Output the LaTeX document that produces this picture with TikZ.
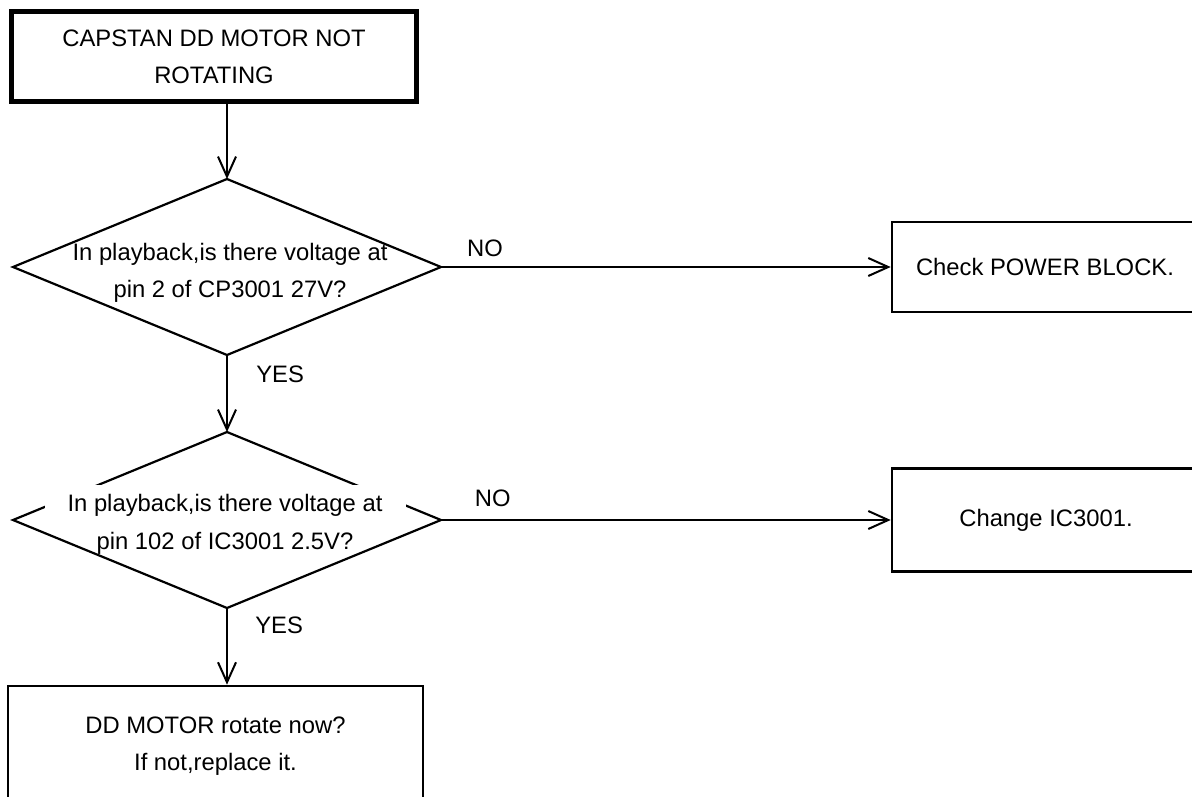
\documentclass[tikz,border=0pt]{standalone}
\usepackage{fontspec}
\setmainfont{Liberation Sans}
\usetikzlibrary{arrows.meta, positioning, shapes.geometric}
\begin{document}
\begin{tikzpicture}[x=1pt, y=-1pt, font=\fontsize{23.8}{37}\selectfont,
    >={Straight Barb[length=20pt, width=18pt]}, line width=2pt,
    b/.style={rectangle, draw, line width=2.6pt, align=center, inner sep=0pt},
    q/.style={diamond, draw, line width=2.2pt, minimum width=428pt, minimum height=176pt, inner sep=0pt, outer sep=0pt}]
\useasboundingbox (0,0) rectangle (1192,796);
\node[b, line width=5pt, minimum width=405pt, minimum height=90pt] (start) at (214,56.5) {CAPSTAN DD MOTOR NOT\\ROTATING};
\node[q] (q1) at (227,267) {};
\node[align=center] (q1t) at (230,273) {In playback,is there voltage at\\pin 2 of CP3001 27V?};
\node[b, minimum width=306pt, minimum height=90pt] (pwr) at (1045,267) {Check POWER BLOCK.};
\node[q] (q2) at (227,520) {};
\node[fill=white, inner sep=0pt, minimum width=361pt, minimum height=40pt] (q2a) at (225,505) {In playback,is there voltage at};
\node (q2b) at (225,543) {pin 102 of IC3001 2.5V?};
\node[b, minimum width=308pt, minimum height=103pt] (ic) at (1046,520) {Change IC3001.};
\node[b, minimum width=415pt, minimum height=120pt] (mot) at (215.5,746) {DD MOTOR rotate now?\\If not,replace it.};
\draw[->] (start.south -| q1.north) -- (q1.north);
\draw[->] (q1.east) -- node[pos=0.098, above=5.5pt]{NO} (pwr.west);
\draw[->] (q1.south) -- node[pos=0.25, right=25pt]{YES} (q2.north);
\draw[->] (q2.east) -- node[pos=0.115, above=9pt]{NO} (ic.west);
\draw[->] (q2.south) -- node[pos=0.22, right=24pt]{YES} (q2.south |- mot.north);
\end{tikzpicture}
\end{document}
